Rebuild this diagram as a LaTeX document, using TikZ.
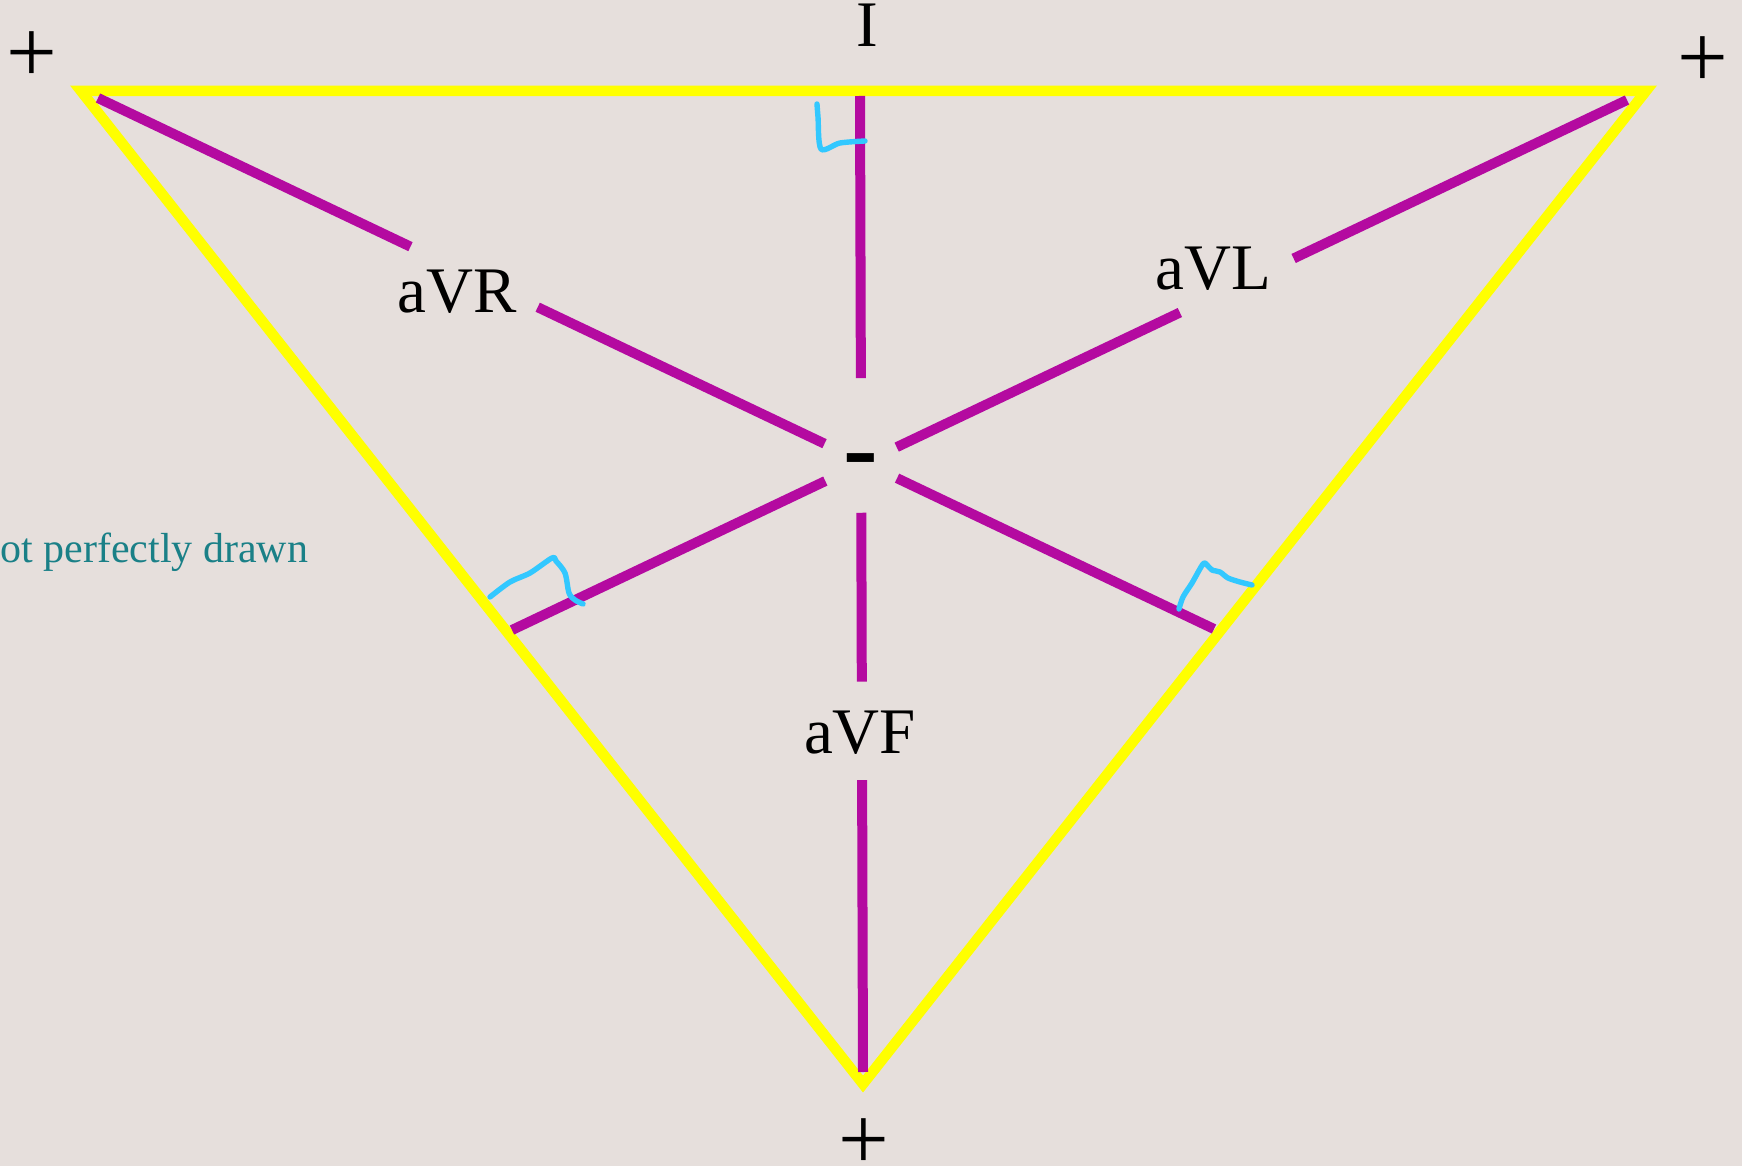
\documentclass[tikz,border=0pt]{standalone}
\usepackage{fontspec}
\setmainfont{Liberation Serif}
\usetikzlibrary{calc}
\definecolor{bgpaper}{RGB}{230,223,220}
\definecolor{leadyellow}{RGB}{255,255,0}
\definecolor{leadpurple}{RGB}{180,10,160}
\definecolor{markblue}{RGB}{50,200,255}
\definecolor{noteteal}{RGB}{26,128,135}

\begin{document}
\begin{tikzpicture}[x=0.5pt, y=-0.5pt,
    side/.style={draw=leadyellow, line width=5.25pt, line join=miter},
    axis/.style={draw=leadpurple, line width=5pt},
    tick/.style={draw=markblue, line width=2.7pt, line cap=round, line join=round},
    lead/.style={font=\fontsize{32.5}{34}\selectfont, inner sep=0pt, anchor=base},
    pole/.style={font=\fontsize{45}{45}\selectfont, inner sep=0pt},
  ]
  \fill[bgpaper] (0,0) rectangle (1742,1166);
  \useasboundingbox (0,0) rectangle (1742,1166);

  % Einthoven triangle
  \coordinate (ra) at (81,91);
  \coordinate (la) at (1646,91);
  \coordinate (ff) at (863,1084);
  \draw[side] (ra) -- (la) -- (ff) -- cycle;

  % augmented lead axes, broken at the labels and the centre
  \coordinate (vr0) at (98,98);    \coordinate (vr1) at (1214,629);
  \coordinate (vl0) at (1627,100); \coordinate (vl1) at (512,630);
  \coordinate (vf0) at (860,96);   \coordinate (vf1) at (863,1072);
  \foreach \a/\b in {0/0.280, 0.394/0.651, 0.716/1}
    \draw[axis] ($(vr0)!\a!(vr1)$) -- ($(vr0)!\b!(vr1)$);
  \foreach \a/\b in {0/0.299, 0.401/0.655, 0.719/1}
    \draw[axis] ($(vl0)!\a!(vl1)$) -- ($(vl0)!\b!(vl1)$);
  \foreach \a/\b in {0/0.289, 0.427/0.600, 0.701/1}
    \draw[axis] ($(vf0)!\a!(vf1)$) -- ($(vf0)!\b!(vf1)$);

  % right-angle marks
  \draw[tick] plot[smooth] coordinates {(817,104) (818,117) (821,149) (840,143) (865,141)};
  \draw[tick] plot[smooth] coordinates {(490,597) (510,582) (530,573) (552,558) (556,561) (565,573) (569,593) (575,600) (583,604)};
  \draw[tick] plot[smooth] coordinates {(1179,609) (1183,597) (1192,583) (1203,564) (1207,565) (1212,570) (1220,572) (1228,578) (1240,582) (1252,585)};

  % labels
  \node[lead] (lbli) at (867,47) {I};
  \node[lead] (lblvr) at (457,313) {aVR};
  \node[lead] (lblvl) at (1213,290) {aVL};
  \node[lead] (lblvf) at (860,753) {aVF};
  \node[font=\fontsize{52}{52}\selectfont\bfseries, inner sep=0pt, anchor=base] (neg) at (861,482) {-};
  \node[pole] (plra) at (32,57) {+};
  \node[pole] (plla) at (1703,62) {+};
  \node[pole] (plff) at (864,1144) {+};
  \node[font=\fontsize{21}{22}\selectfont, text=noteteal, inner sep=0pt, anchor=base west] (note) at (0,562) {ot perfectly drawn};
\end{tikzpicture}
\end{document}
